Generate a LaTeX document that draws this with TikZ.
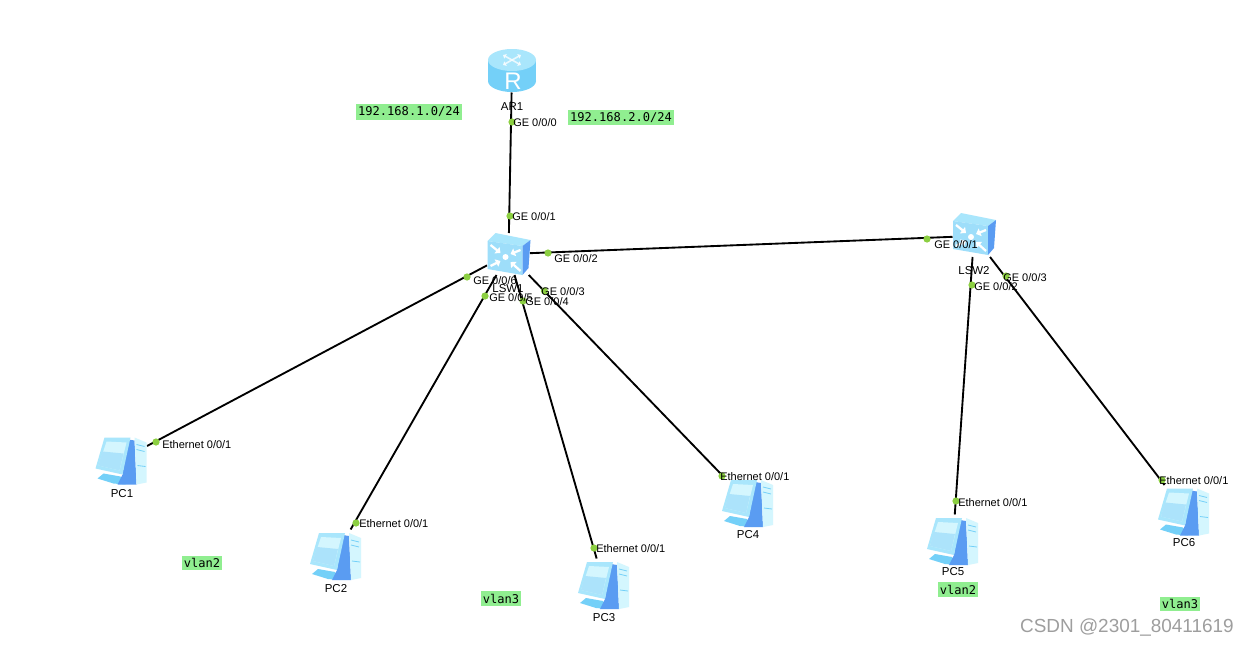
\documentclass[tikz,border=0pt]{standalone}
\usepackage{fontspec}
\setmainfont{Liberation Sans}
\newfontfamily\monotag{DejaVu Sans Mono}
\usetikzlibrary{arrows.meta}
\definecolor{linkdot}{HTML}{8CCF42}
\definecolor{tagfill}{HTML}{90EE90}
\definecolor{iconlight}{HTML}{A9E6FC}
\definecolor{iconmid}{HTML}{74D0F8}
\definecolor{icondark}{HTML}{5A9CF2}
\definecolor{iconpale}{HTML}{D4F6FE}
\tikzset{
  device/.style={inner sep=0pt,outer sep=0pt,minimum width=#1},
  devrouter/.style={device=36pt,minimum height=32.25pt},
  devswitch/.style={device=32.25pt,minimum height=31.5pt},
  devpc/.style={device=38.25pt,minimum height=38.25pt},
  link/.style={black,line width=1.4pt},
  portdot/.style={circle,fill=linkdot,inner sep=0pt,minimum size=5.4pt},
  portlabel/.style={anchor=west,inner sep=0pt,font=\fontsize{8.25pt}{9pt}\selectfont},
  namelabel/.style={inner sep=0pt,font=\fontsize{8.6pt}{9pt}\selectfont},
  tag/.style={fill=tagfill,inner xsep=1.5pt,inner ysep=1.9pt,font=\monotag\fontsize{9.05pt}{9pt}\selectfont},
  arrowwhite/.style={draw=white,line width=1.7pt,-{Triangle[length=3.4pt,width=6pt]}},
  pics/routericon/.style={code={
    \fill[iconmid] (-24,-11) rectangle (24,10);
    \fill[iconmid] (0,10) ellipse[x radius=24,y radius=11];
    \fill[iconlight] (0,-11) ellipse[x radius=24,y radius=11];
    \draw[white,line width=1.2pt,opacity=.75,{Triangle[length=2.2pt,width=3.8pt]}-{Triangle[length=2.2pt,width=3.8pt]}] (-9,-16) -- (9,-6);
    \draw[white,line width=1.2pt,opacity=.75,{Triangle[length=2.2pt,width=3.8pt]}-{Triangle[length=2.2pt,width=3.8pt]}] (9,-16) -- (-9,-6);
    \node[text=white,inner sep=0pt,font=\fontsize{18pt}{18pt}\selectfont] at (1,10) {R};
  }},
  pics/switchicon/.style={code={
    \fill[iconlight] (-13,-21) -- (22,-14) -- (14,-8) -- (-21,-13) -- cycle;
    \fill[iconmid!70!white] (-21,-13) -- (14,-8) -- (14,21) -- (-21,15) -- cycle;
    \fill[icondark] (22,-14) -- (14,-8) -- (14,21) -- (20,14) -- cycle;
    \draw[arrowwhite] (-18,-9) -- (-8,-1);
    \draw[arrowwhite] (12,-4) -- (2,0);
    \draw[arrowwhite] (-18,12) -- (-8,7);
    \draw[arrowwhite] (12,17) -- (2,8);
    \fill[white] (-3,3) circle[radius=3];
  }},
  pics/pcicon/.style={code={
    \fill[iconmid] (-18,14) -- (-1,17) -- (4,25) -- (-8,24) -- (-24,19) -- cycle;
    \fill[icondark] (7,-20) -- (13,-19) -- (15,25) -- (-4,25) -- (1,15) -- cycle;
    \fill[iconpale] (13,-22) -- (25,-17) -- (25,23) -- (15,25) -- cycle;
    \draw[iconmid,line width=.6pt] (15,-15) -- (23,-13) (15,-10) -- (23,-8) (16,6) -- (24,7);
    \fill[iconlight] (-17,-22) -- (9,-22) -- (1,15) -- (-26,9) -- cycle;
    \fill[iconpale] (-15,-18) -- (5,-17) -- (-2,11) -- (-23,6) -- cycle;
    \fill[iconmid!60!white] (-23,6) -- (-2,11) -- (2,-6) -- (-19,-8) -- cycle;
  }}
}
\begin{document}
\begin{tikzpicture}[x=0.75pt,y=-0.75pt]
\useasboundingbox[fill=white] (0,0) rectangle (1249,646);

% device anchors (invisible boxes that clip the links)
\node[devrouter] (AR1) at (512,71) {};
\node[devswitch] (LSW1) at (508.5,254) {};
\node[devswitch] (LSW2) at (974,236) {};
\node[devpc] (PC1) at (121.5,459.5) {};
\node[devpc] (PC2) at (336,555) {};
\node[devpc] (PC3) at (604,584) {};
\node[devpc] (PC4) at (748,502) {};
\node[devpc] (PC5) at (953,540) {};
\node[devpc] (PC6) at (1184,510.5) {};

% links
\draw[link] (AR1) -- (LSW1);
\draw[link] (LSW1) -- (LSW2);
\draw[link] (LSW1) -- (PC1);
\draw[link] (LSW1) -- (PC2);
\draw[link] (LSW1) -- (PC3);
\draw[link] (LSW1) -- (PC4);
\draw[link] (LSW2) -- (PC5);
\draw[link] (LSW2) -- (PC6);

% icons
\pic at (AR1) {routericon};
\pic at (LSW1) {switchicon};
\pic at ([yshift=1.5pt]LSW2) {switchicon};
\foreach \p in {PC1,PC2,PC3,PC4,PC5,PC6} {\pic at (\p) {pcicon};}

% port dots
\node[portdot] (d1) at (512,122) {};
\node[portdot] (d2) at (510,216) {};
\node[portdot] (d3) at (548,253) {};
\node[portdot] (d4) at (544.5,291) {};
\node[portdot] (d5) at (523,301) {};
\node[portdot] (d6) at (485,296) {};
\node[portdot] (d7) at (467,277) {};
\node[portdot] (d8) at (927,239) {};
\node[portdot] (d9) at (972,285) {};
\node[portdot] (d10) at (1006,276) {};
\node[portdot] (d11) at (156,442) {};
\node[portdot] (d12) at (356,523) {};
\node[portdot] (d13) at (594,548) {};
\node[portdot] (d14) at (722,476) {};
\node[portdot] (d15) at (956,501) {};
\node[portdot] (d16) at (1162,480) {};

% port labels
\node[portlabel] (p1) at (513,122.5) {GE 0/0/0};
\node[portlabel] (p2) at (512,216.5) {GE 0/0/1};
\node[portlabel] (p3) at (554,258.5) {GE 0/0/2};
\node[portlabel] (p4) at (541,291.5) {GE 0/0/3};
\node[portlabel] (p5) at (525,301.5) {GE 0/0/4};
\node[portlabel] (p6) at (489,297.5) {GE 0/0/5};
\node[portlabel] (p7) at (473,280.5) {GE 0/0/6};
\node[portlabel] (p8) at (934,244.5) {GE 0/0/1};
\node[portlabel] (p9) at (974,286.5) {GE 0/0/2};
\node[portlabel] (p10) at (1003,277.5) {GE 0/0/3};
\node[portlabel] (p11) at (162,444.5) {Ethernet 0/0/1};
\node[portlabel] (p12) at (359,523.5) {Ethernet 0/0/1};
\node[portlabel] (p13) at (596,548.5) {Ethernet 0/0/1};
\node[portlabel] (p14) at (720,476.5) {Ethernet 0/0/1};
\node[portlabel] (p15) at (958,502.5) {Ethernet 0/0/1};
\node[portlabel] (p16) at (1159,480.5) {Ethernet 0/0/1};

% device names
\node[namelabel] (nAR1) at (512,106.5) {AR1};
\node[namelabel] (nLSW1) at (508,288.5) {LSW1};
\node[namelabel] (nLSW2) at (974,270.5) {LSW2};
\node[namelabel] (nPC1) at (122,493.5) {PC1};
\node[namelabel] (nPC2) at (336,588.5) {PC2};
\node[namelabel] (nPC3) at (604,617.5) {PC3};
\node[namelabel] (nPC4) at (748,534.5) {PC4};
\node[namelabel] (nPC5) at (953,571.5) {PC5};
\node[namelabel] (nPC6) at (1184,542.5) {PC6};

% green tags
\node[tag] (t1) at (409,112) {192.168.1.0/24};
\node[tag] (t2) at (621,117.5) {192.168.2.0/24};
\node[tag] (t3) at (202,563) {vlan2};
\node[tag] (t4) at (501,598.5) {vlan3};
\node[tag] (t5) at (958,589.5) {vlan2};
\node[tag] (t6) at (1180,604) {vlan3};

% watermark
\node[anchor=east,inner sep=0pt,text=black!38,font=\fontsize{14.2pt}{15pt}\selectfont] (wm) at (1234,628) {CSDN @2301\_80411619};
\end{tikzpicture}
\end{document}
